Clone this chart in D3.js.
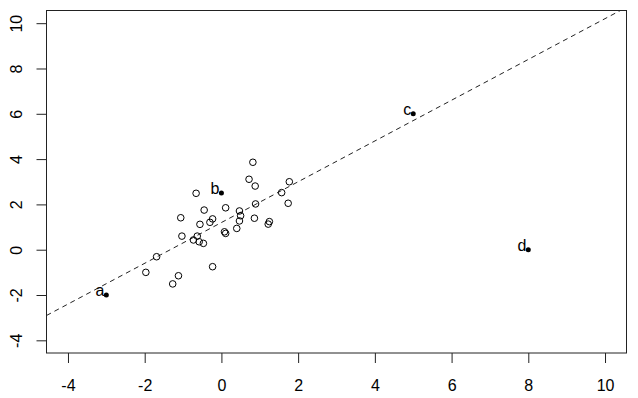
<!DOCTYPE html>
<html>
<head>
<meta charset="utf-8">
<title>scatter with labelled points</title>
<style>
body { margin: 0; background: #fff; }
svg text { font-family: 'Liberation Sans', Arial, sans-serif; font-size: 16px; fill: #000; }
.axis path.domain { display: none; }
.axis line { stroke: #222; }
.frame { fill: none; stroke: #222; }
.fit { stroke: #222; stroke-dasharray: 5,4; fill: none; }
.pt { fill: none; stroke: #000; }
</style>
</head>
<body>
<svg width="638" height="398"></svg>
<script src="https://d3js.org/d3.v7.min.js"></script>
<script>
// open circles
var xs = [0.82, 0.72, 0.88, 1.77, 1.57, 1.74, 0.89, -0.66, -0.45, 0.11, 0.47,
          0.50, 0.47, -1.06, -0.23, -0.30, -0.56, 0.86, 1.25, 1.22, 0.40, 0.08,
          0.11, -1.03, -0.63, -0.73, -0.58, -0.47, -1.69, -1.97, -0.23, -1.12, -1.27];
var ys = [3.86, 3.11, 2.81, 3.00, 2.52, 2.05, 2.02, 2.49, 1.75, 1.85, 1.71,
          1.50, 1.27, 1.41, 1.36, 1.21, 1.12, 1.39, 1.24, 1.13, 0.94, 0.79,
          0.72, 0.60, 0.60, 0.43, 0.35, 0.28, -0.31, -1.00, -0.75, -1.15, -1.51];

// labelled points
var labels = ["a", "b", "c", "d"];
var labX = [-3, 0, 5, 8];
var labY = [-2, 2.5, 6, 0];

// dashed line
var intercept = 1.2;
var slope = 0.9;

var ticks = [-4, -2, 0, 2, 4, 6, 8, 10];
var lim = [-4.56, 10.56];

var svg = d3.select("svg");
var mLeft = 46.5, mRight = 626.5, mTop = 10.5, mBottom = 353;

var x = d3.scaleLinear().domain(lim).range([mLeft, mRight]);
var y = d3.scaleLinear().domain(lim).range([mBottom, mTop]);

svg.append("clipPath").attr("id", "plotclip")
  .append("rect")
    .attr("x", mLeft).attr("y", mTop)
    .attr("width", mRight - mLeft).attr("height", mBottom - mTop);

// fitted line, clipped to the plot region
svg.append("line")
    .attr("class", "fit")
    .attr("clip-path", "url(#plotclip)")
    .attr("x1", x(lim[0])).attr("y1", y(intercept + slope * lim[0]))
    .attr("x2", x(lim[1])).attr("y2", y(intercept + slope * lim[1]));

var pts = xs.map(function(d, i) { return {x: d, y: ys[i]}; });
svg.append("g").selectAll("circle")
  .data(pts)
  .enter().append("circle")
    .attr("class", "pt")
    .attr("cx", function(d) { return x(d.x); })
    .attr("cy", function(d) { return y(d.y); })
    .attr("r", 3.3);

var labs = labels.map(function(d, i) { return {name: d, x: labX[i], y: labY[i]}; });
var lg = svg.append("g");
lg.selectAll("circle")
  .data(labs)
  .enter().append("circle")
    .attr("cx", function(d) { return x(d.x); })
    .attr("cy", function(d) { return y(d.y); })
    .attr("r", 2.5)
    .attr("fill", "#000");
lg.selectAll("text")
  .data(labs)
  .enter().append("text")
    .attr("x", function(d) { return x(d.x) - 2; })
    .attr("y", function(d) { return y(d.y) + 1; })
    .attr("text-anchor", "end")
    .text(function(d) { return d.name; });

// axes (plain hyphen minus like the original)
var fmt = function(d) { return String(d); };

var xAxis = svg.append("g")
    .attr("class", "axis")
    .attr("transform", "translate(0," + mBottom + ")")
    .call(d3.axisBottom(x).tickValues(ticks).tickSize(10).tickFormat(fmt));
xAxis.selectAll("text")
    .attr("dy", null)
    .attr("y", 37.5)
    .style("font-size", "16px")
    .style("font-family", "'Liberation Sans', Arial, sans-serif")
    .attr("fill", "#000");

var yAxis = svg.append("g")
    .attr("class", "axis")
    .attr("transform", "translate(" + mLeft + ",0)")
    .call(d3.axisLeft(y).tickValues(ticks).tickSize(10).tickFormat(fmt));
yAxis.selectAll("text")
    .attr("dy", null)
    .attr("x", null)
    .attr("text-anchor", "middle")
    .attr("transform", "translate(-25,0) rotate(-90)")
    .style("font-size", "16px")
    .style("font-family", "'Liberation Sans', Arial, sans-serif")
    .attr("fill", "#000");

svg.append("rect")
    .attr("class", "frame")
    .attr("x", mLeft).attr("y", mTop)
    .attr("width", mRight - mLeft).attr("height", mBottom - mTop);
</script>
</body>
</html>
